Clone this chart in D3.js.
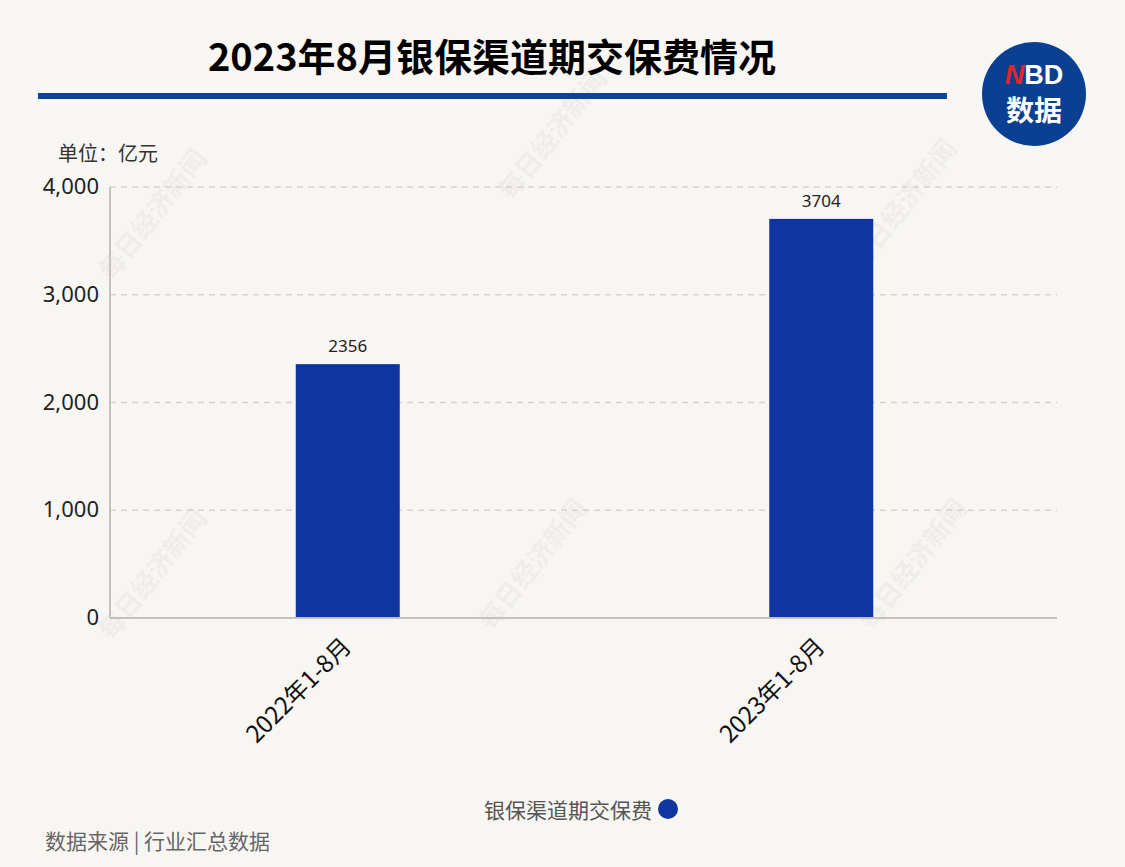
<!DOCTYPE html>
<html><head><meta charset="utf-8">
<script src="https://cdn.jsdelivr.net/npm/d3@7"></script>
<style>body{margin:0;background:#f8f6f2;}svg{display:block;font-family:"Noto Sans CJK SC","Noto Sans",sans-serif;}</style>
</head><body>
<svg id="c" width="1125" height="867"></svg>
<script>
const categories = ["2022年1-8月", "2023年1-8月"];
const values = [2356, 3704];
const yTicks = [0, 1000, 2000, 3000, 4000];
const seriesName = "银保渠道期交保费";
const title = "2023年8月银保渠道期交保费情况";
const unitLabel = "单位：亿元";
const sourceLabel = "数据来源 | 行业汇总数据";

const svg = d3.select("#c");
svg.append("rect").attr("width",1125).attr("height",867).attr("fill","#f8f6f2");

// watermarks
const wm = [[160,220],[560,140],[910,210],[160,580],[540,570],[920,570]];
wm.forEach(([x,y])=>{
  svg.append("text").attr("transform",`translate(${x},${y}) rotate(-52)`)
    .attr("text-anchor","middle").attr("font-size",26).attr("font-weight","bold")
    .attr("fill","#000").attr("opacity",0.03).attr("font-family","Noto Sans CJK SC")
    .text("每日经济新闻");
});

const m = {left:110, right:1057, top:187, bottom:618};
const x = d3.scaleBand().domain(categories).range([m.left, m.right]).padding(0);
const y = d3.scaleLinear().domain([0,4000]).range([m.bottom, m.top]);
const barW = 104;

// grid
svg.append("g").selectAll("line").data(yTicks.filter(d=>d>0)).join("line")
  .attr("x1",m.left).attr("x2",m.right).attr("y1",d=>y(d)).attr("y2",d=>y(d))
  .attr("stroke","#d6d3cf").attr("stroke-width",1.5).attr("stroke-dasharray","6,5");

// y tick labels
const yAxis = d3.axisLeft(y).tickValues(yTicks).tickSize(0).tickPadding(11).tickFormat(d3.format(","));
const gy = svg.append("g").attr("transform",`translate(${m.left},0)`).call(yAxis);
gy.select(".domain").remove();
gy.selectAll("text").attr("font-size",22).attr("fill","#222").attr("font-family","Noto Sans").attr("dy","0.3em");

// axis lines
svg.append("line").attr("x1",m.left).attr("x2",m.left).attr("y1",m.top).attr("y2",m.bottom)
  .attr("stroke","#c4c2bf").attr("stroke-width",2);
svg.append("line").attr("x1",m.left).attr("x2",m.right).attr("y1",m.bottom).attr("y2",m.bottom)
  .attr("stroke","#c4c2bf").attr("stroke-width",2);

// bars
svg.append("g").selectAll("rect").data(values).join("rect")
  .attr("x",(d,i)=>x(categories[i])+x.bandwidth()/2-barW/2+1)
  .attr("width",barW).attr("y",d=>y(d)).attr("height",d=>m.bottom-1-y(d))
  .attr("fill","#0f36a0");

// value labels
svg.append("g").selectAll("text").data(values).join("text")
  .attr("x",(d,i)=>x(categories[i])+x.bandwidth()/2+1).attr("y",d=>y(d)-12)
  .attr("text-anchor","middle").attr("font-size",17).attr("fill","#222").attr("font-family","Noto Sans")
  .text(d=>d);

// x labels
svg.append("g").selectAll("text").data(categories).join("text")
  .attr("transform",d=>`translate(${x(d)+x.bandwidth()/2+6},${m.bottom+30}) rotate(-45)`)
  .attr("text-anchor","end").attr("font-size",24).attr("fill","#111")
  .text(d=>d);

// title
svg.append("text").attr("x",492).attr("y",71).attr("text-anchor","middle")
  .attr("font-size",38).attr("font-weight","bold").attr("fill","#000").text(title);
svg.append("rect").attr("x",38).attr("y",93).attr("width",909).attr("height",6).attr("fill","#0d4295");

// logo
svg.append("circle").attr("cx",1034).attr("cy",94).attr("r",52).attr("fill","#0a3f92");
const nbd = svg.append("text").attr("x",1034).attr("y",84).attr("text-anchor","middle")
  .attr("font-size",27).attr("font-weight","bold").attr("font-family","Liberation Sans").attr("fill","#fff");
nbd.append("tspan").attr("fill","#e3242b").attr("font-style","italic").text("N");
nbd.append("tspan").text("BD");
svg.append("text").attr("x",1034).attr("y",121).attr("text-anchor","middle")
  .attr("font-size",28).attr("font-weight","bold").attr("fill","#fff").text("数据");

// unit
svg.append("text").attr("x",58).attr("y",161).attr("font-size",20).attr("fill","#333").text(unitLabel);

// legend
svg.append("text").attr("x",652).attr("y",818).attr("text-anchor","end")
  .attr("font-size",21).attr("fill","#555").text(seriesName);
svg.append("circle").attr("cx",668).attr("cy",809).attr("r",10).attr("fill","#0f36a0");

// source
svg.append("text").attr("x",45).attr("y",849).attr("font-size",21).attr("fill","#666").text(sourceLabel);
</script>
</body></html>
